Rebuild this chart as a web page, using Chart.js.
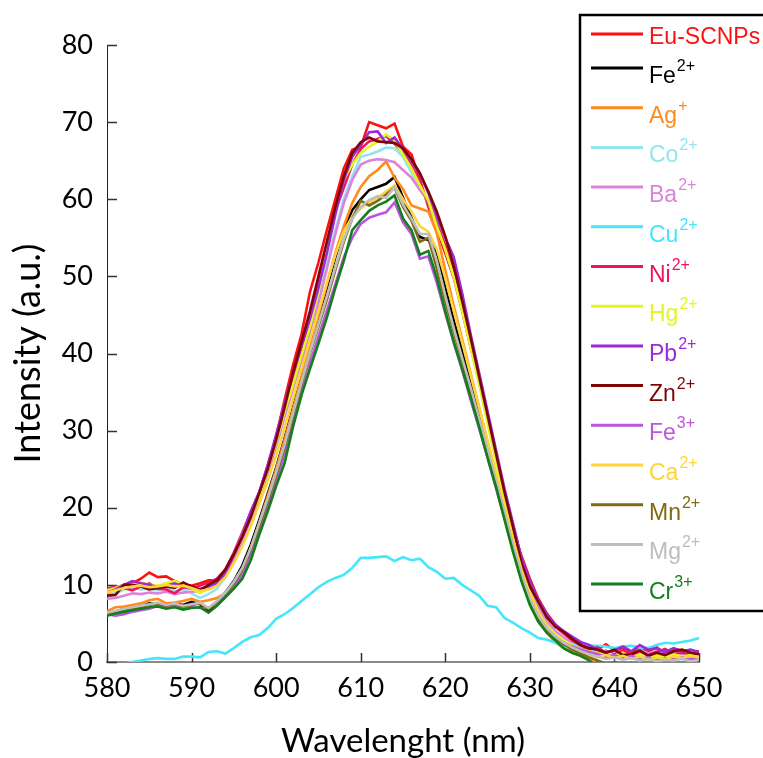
<!DOCTYPE html>
<html>
<head>
<meta charset="utf-8">
<script src="https://cdn.jsdelivr.net/npm/chart.js@4.4.1/dist/chart.umd.min.js"></script>
<style>
  html, body { margin: 0; padding: 0; background: #fff; overflow: hidden; }
  #wrap { width: 763px; height: 758px; }
</style>
</head>
<body>
<div id="wrap"><canvas id="chart" width="763" height="758"></canvas></div>
<script>
// Emission spectra, 580-650 nm in 1 nm steps
const wavelengths = [
    580, 581, 582, 583, 584, 585, 586, 587, 588, 589,
    590, 591, 592, 593, 594, 595, 596, 597, 598, 599,
    600, 601, 602, 603, 604, 605, 606, 607, 608, 609,
    610, 611, 612, 613, 614, 615, 616, 617, 618, 619,
    620, 621, 622, 623, 624, 625, 626, 627, 628, 629,
    630, 631, 632, 633, 634, 635, 636, 637, 638, 639,
    640, 641, 642, 643, 644, 645, 646, 647, 648, 649, 650
];

const euScnps = [
    9.1, 9.6, 10.0, 10.2, 10.8, 11.6, 11.0, 11.1, 10.5, 10.0,
    9.9, 10.2, 10.6, 10.6, 11.5, 13.5, 16.0, 18.5, 20.8, 25.0,
    29.2, 34.0, 38.5, 42.5, 48.0, 51.8, 56.0, 60.0, 64.0, 66.4,
    66.8, 70.0, 69.6, 69.2, 69.8, 66.8, 65.8, 62.5, 59.0, 56.0,
    53.0, 49.8, 45.5, 40.8, 36.6, 31.5, 26.6, 21.5, 17.0, 13.8,
    10.8, 8.2, 6.3, 4.9, 3.9, 3.0, 2.4, 1.9, 1.6, 2.3,
    1.5, 1.8, 1.2, 2.0, 1.4, 1.9, 1.0, 1.7, 1.5, 1.3, 1.4
];
const fe2 = [
    6.3, 6.5, 6.9, 7.0, 7.2, 7.6, 7.5, 7.4, 7.6, 7.4,
    7.8, 7.5, 6.6, 7.8, 9.0, 10.5, 12.5, 15.2, 18.4, 21.8,
    25.2, 29.0, 33.0, 37.0, 41.0, 44.8, 48.5, 52.5, 56.0, 58.6,
    60.0, 61.2, 61.6, 62.0, 62.9, 60.2, 57.6, 55.1, 54.7, 53.0,
    48.5, 44.3, 40.3, 36.2, 32.0, 27.8, 23.7, 19.6, 15.4, 11.6,
    8.4, 6.2, 4.6, 3.5, 2.7, 2.0, 1.5, 1.1, 0.8, 0.5,
    0.7, 0.4, 0.6, 0.3, 0.5, 0.2, 0.4, 0.3, 0.5, 0.2, 0.4
];
const ag = [
    6.6, 7.1, 7.2, 7.4, 7.6, 8.0, 8.2, 7.6, 7.7, 7.9,
    8.2, 7.8, 8.0, 8.3, 8.9, 10.2, 11.9, 14.8, 18.0, 21.5,
    25.0, 28.8, 32.8, 36.8, 41.0, 45.0, 49.0, 53.0, 56.5, 59.5,
    61.6, 63.0, 63.8, 64.9, 62.8, 61.3, 59.2, 58.8, 58.4, 55.6,
    50.8, 46.2, 41.8, 37.4, 33.0, 28.6, 24.2, 19.8, 15.6, 11.2,
    7.8, 5.4, 3.8, 2.6, 1.8, 1.2, 0.8, 0.3, -0.3, -0.8,
    -1.1, -1.3, -1.5, -1.4, -1.6, -1.5, -1.7, -1.6, -1.8, -1.7, -1.8
];
const co = [
    8.8, 8.9, 9.4, 9.6, 9.4, 9.5, 9.3, 9.6, 9.2, 9.4,
    8.9, 8.3, 8.8, 9.5, 11.0, 13.0, 15.5, 18.5, 21.0, 24.5,
    28.0, 32.0, 35.8, 39.5, 43.0, 47.0, 51.5, 56.0, 60.0, 63.0,
    65.5, 65.8, 66.2, 66.7, 66.6, 65.5, 63.5, 61.5, 59.5, 56.5,
    53.5, 50.0, 45.8, 41.0, 36.2, 31.2, 26.0, 21.0, 16.8, 12.4,
    9.2, 6.6, 4.8, 3.5, 2.6, 1.9, 1.5, 1.2, 1.5, 1.0,
    0.8, 1.2, 0.7, 1.1, 0.9, 0.6, 1.0, 0.8, 1.1, 0.9, 0.7
];
const ba = [
    8.2, 8.3, 8.6, 8.9, 8.8, 9.0, 8.9, 9.1, 8.8, 9.0,
    9.1, 9.2, 9.6, 10.0, 11.2, 13.2, 15.8, 18.6, 21.2, 24.5,
    28.0, 31.8, 35.5, 39.0, 42.5, 46.5, 51.0, 55.5, 59.5, 62.5,
    64.5, 65.0, 65.2, 65.1, 64.8, 63.8, 62.8, 61.2, 59.8, 57.0,
    53.8, 50.2, 46.0, 41.2, 36.4, 31.4, 26.4, 21.6, 17.2, 13.0,
    9.8, 7.2, 5.3, 4.0, 3.2, 2.4, 1.8, 1.4, 1.1, 1.5,
    1.0, 1.3, 0.9, 1.6, 1.1, 1.4, 1.0, 1.3, 1.1, 1.4, 1.2
];
const cu = [
    -0.5, -0.4, -0.2, 0.0, 0.2, 0.4, 0.5, 0.4, 0.4, 0.7,
    0.7, 0.6, 1.3, 1.4, 1.1, 1.8, 2.6, 3.2, 3.5, 4.4,
    5.6, 6.2, 7.0, 7.9, 8.8, 9.7, 10.4, 10.9, 11.3, 12.2,
    13.5, 13.5, 13.6, 13.7, 13.1, 13.6, 13.2, 13.4, 12.3, 11.7,
    10.8, 10.9, 10.0, 9.3, 8.6, 7.3, 7.1, 5.7, 5.1, 4.4,
    3.8, 3.1, 2.9, 2.5, 2.1, 2.2, 2.2, 2.1, 2.1, 2.0,
    1.8, 2.0, 2.1, 1.9, 1.8, 2.2, 2.5, 2.4, 2.6, 2.8, 3.1
];
const ni = [
    9.5, 9.8, 9.6, 9.3, 9.8, 10.2, 9.5, 9.4, 8.9, 9.7,
    9.5, 9.9, 10.3, 10.8, 12.0, 14.2, 16.8, 19.4, 22.0, 25.5,
    29.0, 33.0, 37.0, 40.5, 44.5, 49.0, 54.0, 58.5, 61.5, 64.5,
    66.5, 67.5, 67.8, 68.2, 67.2, 66.0, 64.5, 62.0, 59.5, 56.8,
    54.0, 50.5, 46.5, 41.5, 36.8, 31.8, 26.8, 22.0, 17.8, 13.4,
    10.4, 8.0, 6.0, 4.6, 3.7, 2.8, 2.2, 1.6, 1.9, 1.2,
    1.0, 1.5, 0.8, 1.4, 0.9, 1.3, 1.7, 1.0, 1.2, 0.9, 1.1
];
const hg = [
    9.3, 9.6, 10.0, 10.1, 10.3, 10.0, 9.9, 10.2, 10.5, 10.0,
    9.5, 8.9, 9.6, 10.3, 11.6, 13.8, 16.5, 19.0, 21.5, 25.0,
    28.5, 32.5, 36.0, 39.8, 43.5, 48.0, 53.5, 58.5, 62.5, 64.5,
    66.0, 66.8, 67.5, 68.4, 67.6, 65.8, 64.0, 61.8, 59.8, 56.5,
    53.5, 50.0, 45.5, 40.8, 36.0, 31.0, 26.0, 21.0, 16.5, 12.0,
    9.0, 6.5, 4.8, 3.6, 2.8, 2.2, 1.6, 1.4, 1.0, 1.3,
    0.8, 1.2, 0.6, 1.0, 0.5, 0.9, 0.6, 1.0, 0.7, 0.9, 0.8
];
const pb = [
    9.0, 9.4, 10.0, 10.5, 10.2, 10.0, 9.7, 9.9, 10.2, 9.8,
    9.6, 9.5, 9.8, 10.2, 11.5, 13.8, 16.5, 19.5, 22.0, 25.5,
    29.5, 33.5, 37.5, 41.0, 44.5, 48.5, 53.0, 58.0, 62.5, 65.5,
    67.0, 68.7, 68.8, 67.3, 68.0, 66.5, 65.0, 63.2, 60.8, 57.8,
    55.0, 52.5, 47.8, 42.5, 37.5, 32.5, 27.5, 22.5, 18.0, 13.5,
    10.5, 8.0, 6.2, 4.8, 4.0, 3.3, 2.6, 2.2, 1.6, 1.3,
    1.5, 2.0, 1.4, 2.2, 1.6, 1.8, 1.3, 1.8, 1.4, 1.6, 1.3
];
const zn = [
    8.6, 8.7, 10.0, 10.0, 9.8, 9.4, 9.6, 9.8, 9.6, 10.3,
    9.8, 9.3, 10.0, 10.6, 12.0, 14.0, 16.2, 18.8, 21.9, 25.0,
    28.8, 33.0, 37.5, 41.5, 45.5, 50.0, 54.5, 59.0, 63.0, 66.0,
    67.4, 68.0, 67.5, 67.4, 67.3, 66.6, 65.2, 63.4, 61.0, 58.4,
    55.2, 51.3, 46.8, 42.0, 37.0, 32.0, 27.0, 22.0, 17.5, 12.8,
    9.8, 7.8, 5.8, 4.6, 3.9, 3.0, 2.2, 1.8, 1.6, 1.2,
    1.6, 0.9, 1.0, 1.5, 0.8, 1.2, 0.9, 1.4, 1.6, 1.2, 1.0
];
const fe3 = [
    6.2, 6.0, 6.2, 6.5, 6.7, 6.9, 7.3, 7.0, 7.2, 6.9,
    7.1, 7.0, 7.0, 7.6, 8.6, 9.8, 11.4, 14.0, 17.2, 20.2,
    23.5, 27.0, 31.0, 35.0, 38.8, 42.2, 45.6, 49.0, 52.5, 55.0,
    56.8, 57.6, 58.0, 58.3, 59.6, 57.0, 55.5, 52.3, 52.6, 49.2,
    45.2, 41.4, 37.8, 34.0, 30.3, 26.5, 22.5, 18.6, 14.5, 10.8,
    7.8, 5.6, 4.2, 3.2, 2.5, 2.0, 1.6, 1.3, 1.0, 0.7,
    0.9, 0.5, 0.8, 0.4, 0.6, 0.2, 0.5, 0.3, 0.6, 0.4, 0.5
];
const ca = [
    9.0, 9.3, 9.6, 9.8, 9.9, 9.7, 9.8, 10.0, 9.8, 9.9,
    9.6, 9.2, 9.4, 9.9, 11.0, 12.8, 15.0, 17.6, 20.5, 23.5,
    26.8, 30.4, 34.2, 38.0, 41.8, 45.5, 49.2, 52.8, 55.8, 57.8,
    58.8, 59.6, 60.2, 61.0, 61.8, 60.0, 58.4, 56.5, 55.8, 53.5,
    49.8, 45.6, 41.4, 37.2, 33.0, 28.6, 24.4, 20.2, 16.0, 12.0,
    8.8, 6.4, 4.7, 3.4, 2.5, 1.8, 1.3, 0.9, 0.6, 0.9,
    0.5, 0.8, 0.4, 0.7, 0.3, 0.6, 0.4, 0.7, 0.5, 0.8, 0.6
];
const mn = [
    6.3, 6.5, 6.8, 7.0, 7.2, 7.4, 7.6, 7.3, 7.5, 7.2,
    7.4, 7.6, 6.9, 7.8, 8.9, 10.2, 12.0, 14.5, 17.6, 20.8,
    24.2, 27.8, 32.0, 36.0, 40.0, 43.5, 47.0, 50.8, 54.5, 57.5,
    59.8, 59.2, 59.8, 60.6, 61.5, 59.0, 57.2, 54.5, 55.0, 51.0,
    46.8, 42.8, 39.0, 35.2, 31.3, 27.3, 23.3, 19.2, 15.0, 11.2,
    8.0, 5.8, 4.2, 3.1, 2.3, 1.6, 1.1, 0.6, 0.2, -0.2,
    0.0, -0.3, -0.1, -0.4, -0.2, -0.5, -0.3, -0.5, -0.4, -0.6, -0.5
];
const mg = [
    6.4, 6.6, 6.9, 7.1, 7.3, 7.5, 7.7, 7.4, 7.6, 7.3,
    7.5, 7.7, 7.0, 7.9, 9.0, 10.4, 12.2, 14.8, 18.0, 21.2,
    24.6, 28.2, 32.3, 36.3, 40.2, 43.8, 47.4, 51.2, 54.8, 57.5,
    59.0, 59.9, 60.4, 60.2, 61.6, 59.3, 57.5, 55.5, 55.5, 52.0,
    47.5, 43.3, 39.4, 35.6, 31.6, 27.5, 23.5, 19.4, 15.2, 11.4,
    8.2, 6.0, 4.4, 3.3, 2.5, 1.9, 1.4, 1.0, 0.7, 0.4,
    0.6, 0.3, 0.5, 0.2, 0.4, 0.1, 0.3, 0.2, 0.4, 0.1, 0.3
];
const cr = [
    6.0, 6.3, 6.5, 6.7, 6.9, 7.1, 7.2, 6.9, 7.1, 6.8,
    7.0, 7.1, 6.4, 7.3, 8.4, 9.5, 10.8, 13.2, 16.5, 19.5,
    22.8, 25.8, 30.5, 34.6, 38.0, 41.3, 44.7, 48.5, 52.0, 56.0,
    57.3, 58.5, 59.2, 59.7, 60.5, 57.5, 56.0, 52.8, 53.3, 49.8,
    45.5, 41.5, 38.0, 34.3, 30.5, 26.5, 22.7, 18.5, 14.3, 10.5,
    7.4, 5.2, 3.8, 2.8, 1.8, 1.2, 0.8, 0.2, -0.6, -1.2,
    -1.6, -1.8, -2.0, -2.0, -2.1, -2.2, -2.0, -2.2, -2.3, -2.1, -2.2
];

// legend text: base name + superscript charge
const seriesNames = ['Eu-SCNPs', 'Fe', 'Ag', 'Co', 'Ba', 'Cu', 'Ni', 'Hg', 'Pb', 'Zn', 'Fe', 'Ca', 'Mn', 'Mg', 'Cr'];
const seriesCharges = ['', '2+', '+', '2+', '2+', '2+', '2+', '2+', '2+', '2+', '3+', '2+', '2+', '2+', '3+'];
const seriesValues = [euScnps, fe2, ag, co, ba, cu, ni, hg, pb, zn, fe3, ca, mn, mg, cr];
const seriesColors = [
    '#ff1010', // Eu-SCNPs
    '#000000', // Fe2+
    '#ff8a1e', // Ag+
    '#93e4ee', // Co2+
    '#db84db', // Ba2+
    '#45e6fb', // Cu2+
    '#f2135c', // Ni2+
    '#e4f524', // Hg2+
    '#9a2ad6', // Pb2+
    '#7d0505', // Zn2+
    '#bb55dd', // Fe3+
    '#fdd53a', // Ca2+
    '#7f6a12', // Mn2+
    '#bdbdbd', // Mg2+
    '#137f1c', // Cr3+
];

Chart.defaults.font.family = 'Lato, "Open Sans", sans-serif';
Chart.defaults.color = '#000';

/**
 * Tick marks pointing into the plot area, like the original spreadsheet chart
 */
const inwardTicks = {
    id: 'inwardTicks',
    beforeDatasetsDraw(chart) {
        const { ctx, chartArea, scales: { x, y } } = chart;
        ctx.save();
        ctx.strokeStyle = '#333';
        ctx.lineWidth = 1.5;
        ctx.beginPath();
        x.ticks.forEach((t) => {
            const px = Math.round(x.getPixelForValue(t.value)) + 0.5;
            ctx.moveTo(px, chartArea.bottom);
            ctx.lineTo(px, chartArea.bottom - 9);
        });
        y.ticks.forEach((t) => {
            const py = Math.round(y.getPixelForValue(t.value)) + 0.5;
            ctx.moveTo(chartArea.left, py);
            ctx.lineTo(chartArea.left + 10, py);
        });
        ctx.stroke();
        ctx.restore();
    }
};

/**
 * Boxed legend in the upper right, drawn over the plot
 */
const boxedLegend = {
    id: 'boxedLegend',
    afterDraw(chart) {
        const ctx = chart.ctx;
        ctx.save();
        ctx.fillStyle = '#fff';
        ctx.fillRect(579, 14, 200, 598);
        ctx.strokeStyle = '#000';
        ctx.lineWidth = 2.5;
        ctx.strokeRect(580, 15, 200, 596);

        chart.data.datasets.forEach((ds, i) => {
            const ly = i === 0 ? 34 : 68 + (i - 1) * 39.7;
            ctx.strokeStyle = ds.borderColor;
            ctx.lineWidth = 3;
            ctx.beginPath();
            ctx.moveTo(591, ly);
            ctx.lineTo(643, ly);
            ctx.stroke();

            const charge = seriesCharges[i];
            ctx.fillStyle = ds.borderColor;
            ctx.textBaseline = 'alphabetic';
            ctx.textAlign = 'left';
            ctx.font = '23px "Liberation Sans", Arial, sans-serif';
            const base = charge ? ly + 15 : ly + 10;
            ctx.fillText(seriesNames[i], 649, base);
            if (charge) {
                const w = ctx.measureText(seriesNames[i]).width;
                ctx.font = '16px "Liberation Sans", Arial, sans-serif';
                ctx.fillText(charge, 649 + w + 1, ly + 3);
            }
        });
        ctx.restore();
    }
};

const datasets = seriesValues.map((vals, i) => ({
    label: seriesNames[i] + seriesCharges[i],
    data: wavelengths.map((w, j) => ({ x: w, y: vals[j] })),
    borderColor: seriesColors[i],
    backgroundColor: seriesColors[i],
    borderWidth: 2.6,
    pointRadius: 0,
    tension: 0,
    fill: false,
    order: seriesValues.length - i,
}));

new Chart(document.getElementById('chart'), {
    type: 'line',
    data: { datasets },
    options: {
        responsive: false,
        animation: false,
        layout: { padding: { top: 45, right: 64, left: 0, bottom: 0 } },
        plugins: {
            legend: { display: false },
            tooltip: { enabled: false },
        },
        scales: {
            x: {
                type: 'linear',
                min: 580,
                max: 650,
                afterFit: (scale) => { scale.height = 96; },
                grid: { display: false, drawTicks: false },
                border: { display: true, color: '#8a8a8a', width: 2 },
                ticks: { stepSize: 10, padding: 10, font: { size: 27 }, color: '#000' },
                title: {
                    display: true,
                    text: 'Wavelenght (nm)',
                    font: { size: 33, lineHeight: 1 },
                    color: '#000',
                    padding: { top: 0, bottom: 0 },
                },
            },
            y: {
                min: 0,
                max: 80,
                afterFit: (scale) => { scale.width = 107; },
                grid: { display: false, drawTicks: false },
                border: { display: true, color: '#222', width: 1 },
                ticks: { stepSize: 10, padding: 14, font: { size: 27 }, color: '#000' },
                title: {
                    display: true,
                    text: 'Intensity (a.u.)',
                    font: { size: 36, lineHeight: 1 },
                    color: '#000',
                    padding: { top: 10, bottom: 0 },
                },
            },
        },
    },
    plugins: [inwardTicks, boxedLegend],
});
</script>
</body>
</html>
